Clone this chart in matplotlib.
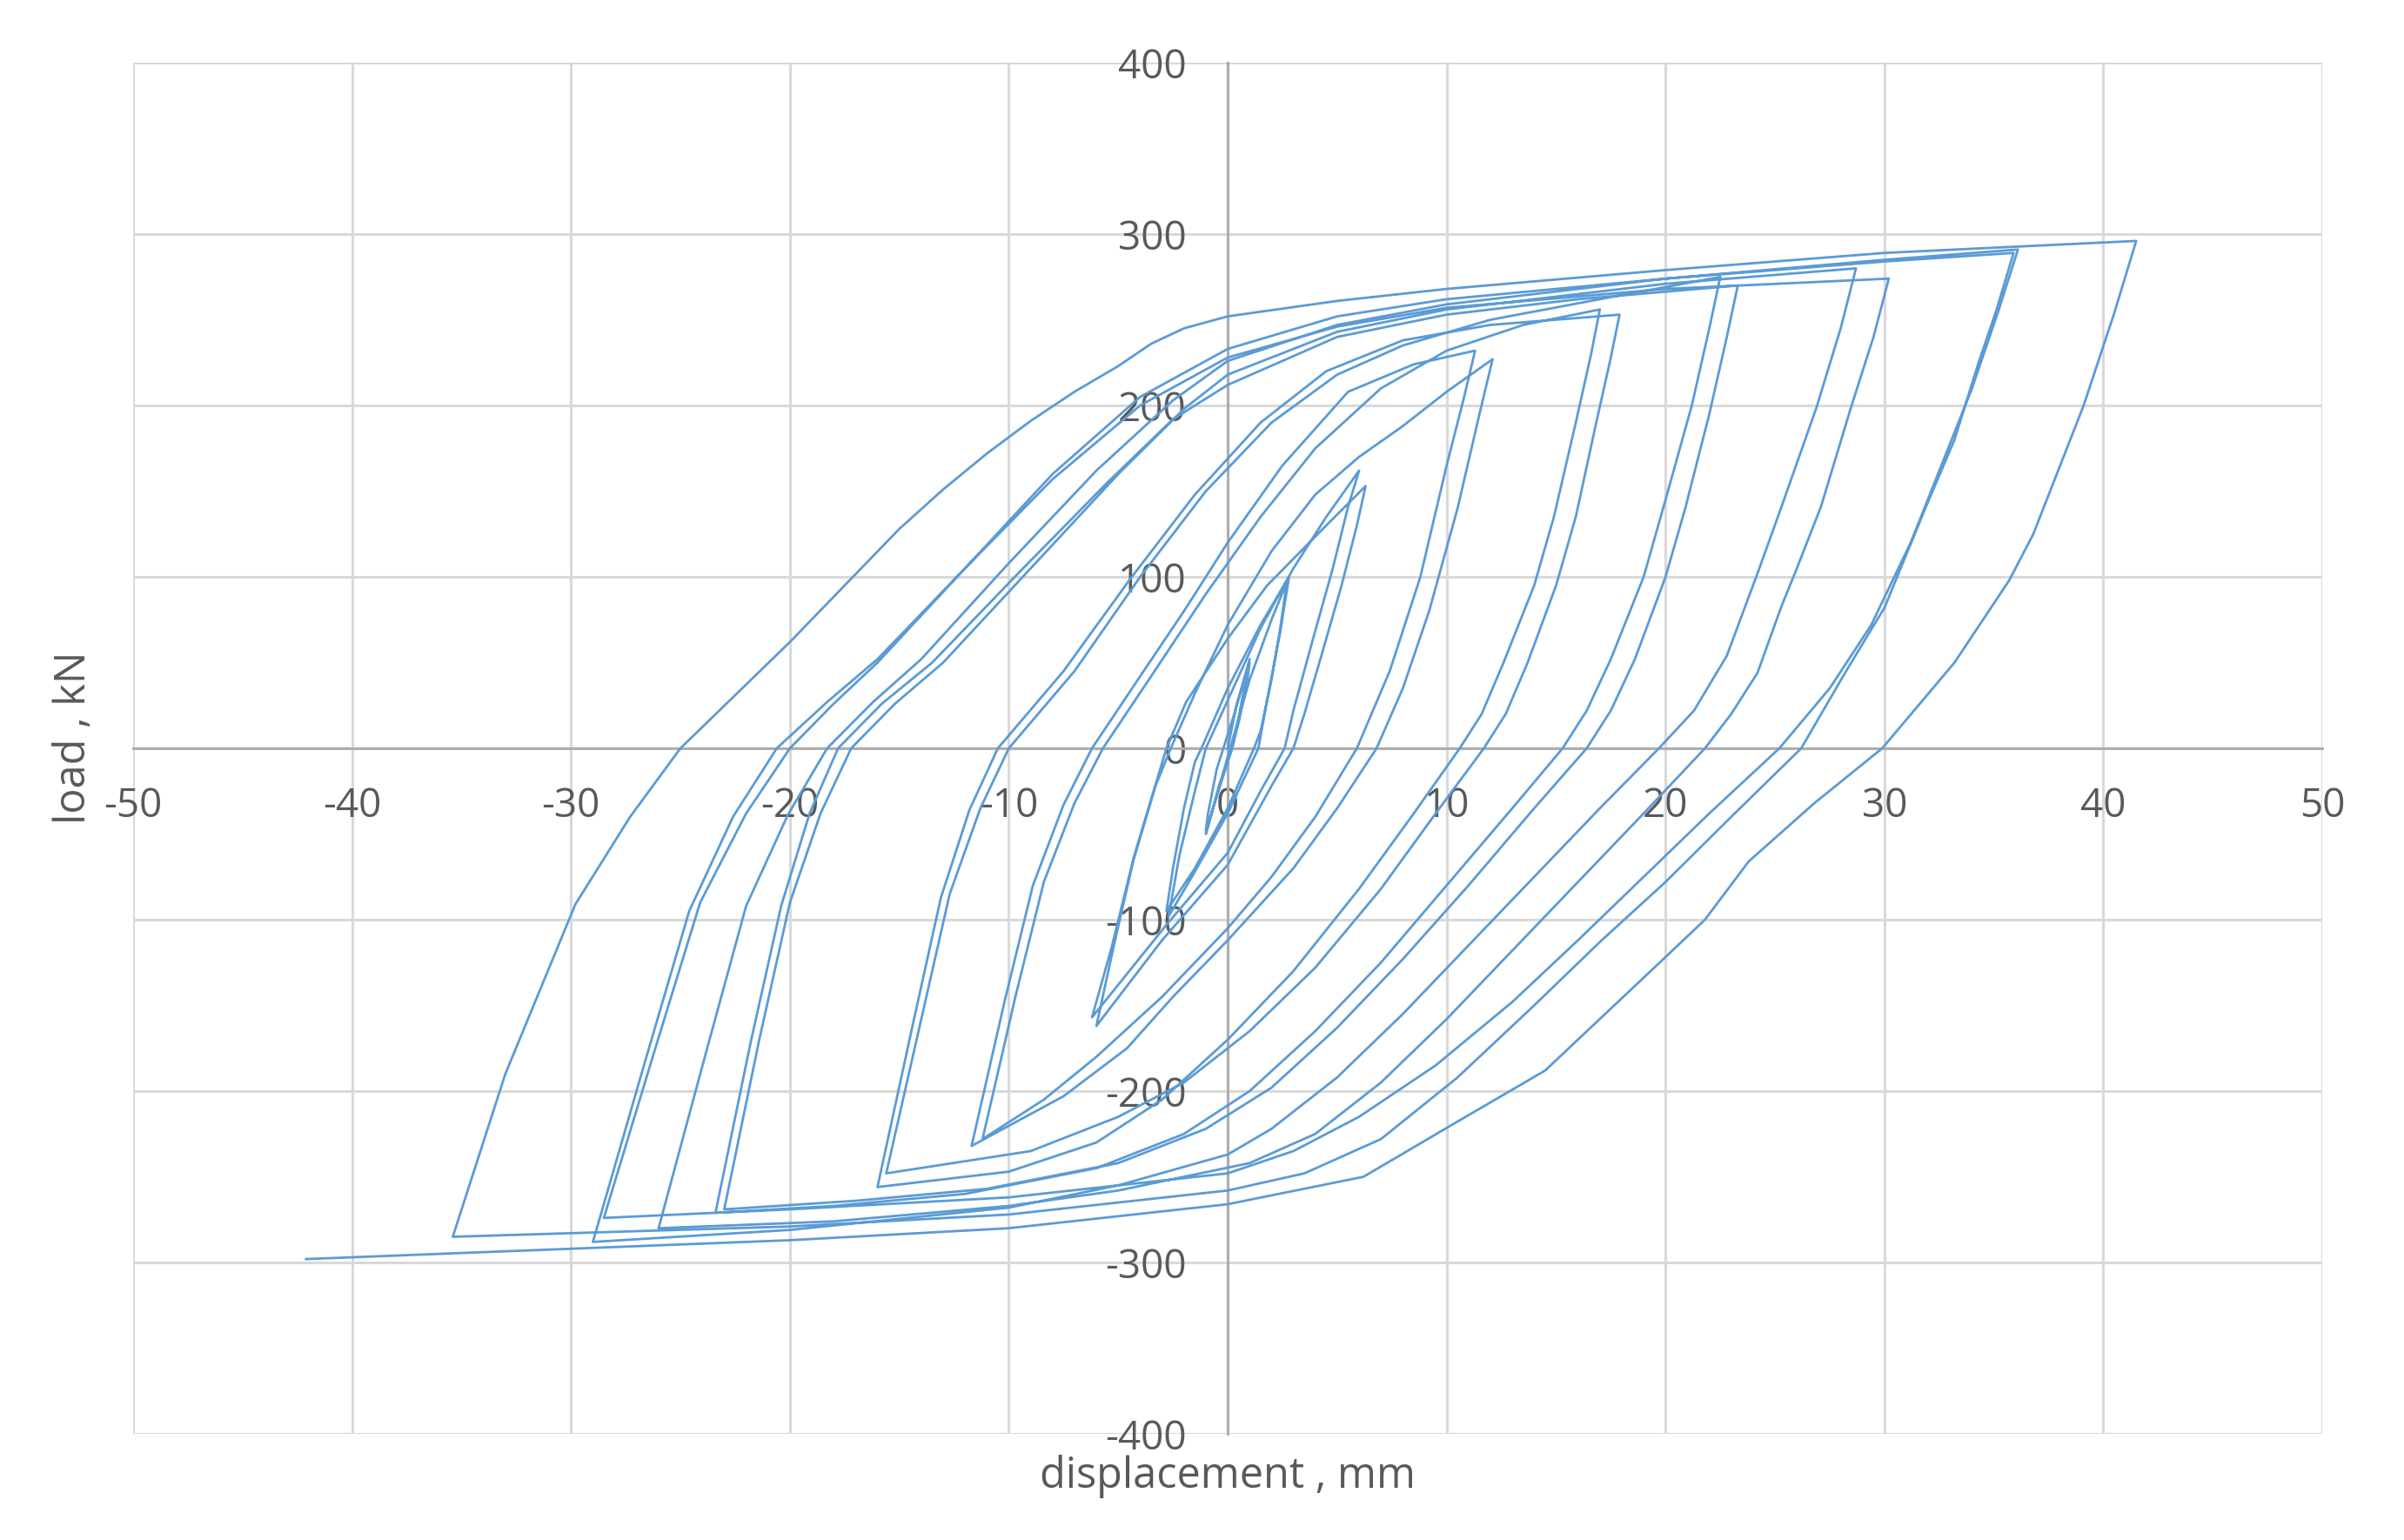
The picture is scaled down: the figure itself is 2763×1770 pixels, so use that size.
"""
Load-displacement hysteresis loops (cyclic test).
"""

import numpy as np
import matplotlib.pyplot as plt

# cycle level 1 (tiny loops around the origin)
disp_lvl1 = [0, 0.4, 1.0, 0.9, 0.5, 0.2, -0.3, -1.0, -0.9, -0.5, -0.2, 0.3, 1.0, 0.5, 0.2, -0.4, -1.0]
load_lvl1 = [0, 25, 50, 40, 15, 0, -20, -48, -38, -12, 0, 20, 52, 18, 0, -22, -50]

# cycle level 2 (about +-2.7 mm)
disp_lvl2 = [0, 1, 2, 2.7, 2.4, 2.0, 1.5, 1.2, 0, -1.5, -2.8, -2.5, -2.0, -1.5, -1.2, 0, 1.5, 2.8,
             2.4, 1.8, 1.4, 0, -1.5, -2.7]
load_lvl2 = [-5, 40, 75, 97, 70, 40, 10, 0, -35, -70, -95, -70, -35, -8, 0, 35, 72, 100,
             68, 28, 0, -38, -72, -98]

# cycle level 3 (about +-6 mm)
disp_lvl3 = [-2.2, -1.5, -1.0, 0, 1.5, 3, 4.5, 6.0,
             5.5, 4.8, 3.9, 3.0, 2.6, 1.5, 0, -2.8, -4.5, -6.2,
             -5.3, -4.3, -3.2, -2.8, -1.9, 0, 1.8, 4.5, 6.3,
             5.9, 5.2, 4.3, 3.5, 3.0, 2, 0, -3, -6.0]
load_lvl3 = [-62, -25, 0, 28, 70, 105, 135, 162,
             141, 105, 64, 22, 0, -25, -61, -103, -130, -157,
             -116, -64, -17, 0, 27, 64, 95, 130, 153,
             130, 95, 55, 20, 0, -22, -68, -112, -162]

# cycle level 4 (about +-12 mm)
disp_lvl4 = [-5.2, -4.3, -3.3, -2.6, -1.5, 0, 2, 4, 6, 8, 10, 12.1,
             11.5, 10.5, 9.2, 8.0, 6.8, 5, 3, 0, -2.5, -4.6, -7.5, -11.7,
             -10.2, -8.9, -7.5, -6.2, -4, -2, 0, 2.5, 5.5, 8.5, 11.3,
             10.8, 10, 8.8, 7.4, 5.9, 4, 2, 0, -3, -6, -8.4, -11.2]
load_lvl4 = [-115, -65, -22, 0, 32, 72, 115, 148, 170, 188, 208, 227,
             195, 140, 80, 35, 0, -35, -70, -112, -145, -175, -203, -232,
             -148, -80, -33, 0, 42, 80, 120, 165, 208, 224, 232,
             205, 165, 100, 45, 0, -40, -75, -105, -145, -180, -205, -228]

# cycle level 5 (about +-17 mm)
disp_lvl5 = [-9.7, -8.4, -7.0, -5.7, -3.5, -1, 1.5, 4, 7, 10, 13.5, 17.0,
             16.6, 15.9, 14.9, 14.0, 12.6, 11.6, 10.6, 8.5, 6, 3, 0, -3, -6, -10, -16.0,
             -14.4, -13.1, -11.8, -10.5, -7.5, -4.5, -1.5, 1.5, 4.5, 8, 12, 17.9,
             17.5, 16.8, 15.9, 15.0, 13.7, 12.7, 11.7, 9.5, 7, 4, 1, -2, -5, -9, -15.6]
load_lvl5 = [-145, -78, -32, 0, 42, 90, 135, 175, 210, 232, 247, 256,
             230, 190, 135, 95, 50, 20, 0, -38, -82, -130, -170, -205, -230, -247, -256,
             -162, -87, -36, 0, 45, 98, 148, 190, 220, 238, 247, 253,
             228, 188, 135, 95, 50, 20, 0, -38, -82, -128, -165, -195, -215, -235, -248]

# cycle level 6 (about +-23 mm)
disp_lvl6 = [-14.0, -12.7, -11.3, -10, -7, -4, -1, 2, 5, 8, 12, 17, 22.5,
             22.0, 21.2, 20.0, 19.0, 17.5, 16.4, 15.3, 13, 10, 7, 4, 1, -2, -6, -12, -18, -23.4,
             -21.8, -20.4, -19.1, -17.8, -15.8, -13.5, -9.5, -5.5, -2.5, 0, 5, 10, 16, 23.3,
             22.8, 22.0, 20.9, 20.0, 18.6, 17.5, 16.4, 14, 11, 8, 5, 2, -1, -5, -11, -17, -23.0]
load_lvl6 = [-158, -85, -35, 0, 45, 100, 150, 190, 218, 235, 250, 262, 275,
             245, 200, 145, 100, 52, 22, 0, -35, -80, -125, -165, -200, -225, -245, -260, -267, -271,
             -172, -92, -38, 0, 26, 50, 103, 155, 192, 212, 240, 253, 262, 270,
             240, 195, 140, 100, 52, 22, 0, -35, -80, -123, -163, -198, -222, -242, -257, -264, -269]

# cycle level 7 (about +-29 mm)
disp_lvl7 = [-21.4, -20.0, -18.6, -17.2, -15.2, -13, -9, -5, -2, 0, 5, 10, 20, 28.7,
             28.0, 26.9, 25.3, 24.2, 22.8, 21.3, 19.7, 17, 14, 11, 8, 5, 2, 0, -5, -10, -20, -29.0,
             -26.6, -24.6, -22.6, -20.6, -18.3, -16, -12, -8, -4, 0, 5, 10, 20, 30.2,
             29.5, 28.5, 27.1, 26.0, 25.3, 24.2, 23, 21.8, 19, 16, 13, 10, 7, 4, 1, -5, -10, -18, -26.0]
load_lvl7 = [-170, -90, -38, 0, 26, 50, 105, 160, 198, 218, 243, 256, 271, 280,
             245, 199, 141, 102, 54, 22, 0, -35, -75, -115, -155, -192, -222, -237, -255, -268, -281, -288,
             -182, -95, -40, 0, 27, 52, 105, 157, 200, 228, 246, 257, 268, 274,
             240, 200, 141, 105, 83, 44, 20, 0, -38, -78, -118, -158, -195, -225, -242, -258, -267, -276, -280]

# cycle level 8 (about +-36 mm)
disp_lvl8 = [-23.8, -22.0, -20.1, -18.3, -16.2, -14, -10, -6, -2.5, 0, 5, 10, 20, 30, 36.1,
             35.2, 34.0, 32.6, 31.2, 29.4, 27.5, 25.2, 22, 19, 16, 13, 9.5, 6, 3, 0, -10, -20, -28.5,
             -26.1, -24.1, -22.0, -20, -18, -16, -12, -8, -4, 0, 5, 10, 20, 30, 35.9,
             35.1, 34.3, 33.2, 31.9, 30, 28.2, 26.2, 23, 20, 17, 14, 10.5, 7, 3.5, 0, -10, -20, -35.4]
load_lvl8 = [-176, -92, -39, 0, 27, 52, 108, 162, 203, 226, 247, 259, 274, 285, 291,
             255, 210, 165, 120, 72, 35, 0, -38, -75, -112, -148, -185, -215, -235, -248, -262, -269, -274,
             -173, -90, -38, 0, 26, 50, 105, 160, 205, 233, 252, 262, 274, 284, 289,
             255, 225, 180, 141, 82, 44, 0, -40, -78, -113, -150, -192, -228, -248, -258, -272, -279, -285]

# cycle level 9 (largest loop, +41.5 / -42 mm)
disp_lvl9 = [-33.0, -29.8, -27.3, -25, -20, -15, -13, -11, -9, -7, -5, -3.5, -2, 0, 5, 10, 20, 30, 41.5,
             40.5, 39.1, 36.8, 35.7, 33.2, 29.9, 26.8, 23.8, 21.8, 19.9, 14.5, 10.2, 6.2, 0,
             -10, -20, -30, -42.1]
load_lvl9 = [-190, -91, -40, 0, 62, 128, 151, 172, 191, 208, 223, 236, 245, 252, 261, 268, 279, 289, 296,
             254, 200, 125, 98, 50, 0, -32, -66, -100, -123, -188, -220, -250, -266,
             -280, -287, -292, -298]

x_ticks = list(range(-50, 51, 10))
y_ticks = list(range(-400, 401, 100))

displacement = np.concatenate([disp_lvl1, disp_lvl2, disp_lvl3, disp_lvl4, disp_lvl5,
                               disp_lvl6, disp_lvl7, disp_lvl8, disp_lvl9])
load = np.concatenate([load_lvl1, load_lvl2, load_lvl3, load_lvl4, load_lvl5,
                       load_lvl6, load_lvl7, load_lvl8, load_lvl9])

plt.rcParams["font.family"] = ["Open Sans", "DejaVu Sans"]
plt.rcParams["axes.unicode_minus"] = False

fig = plt.figure(figsize=(27.63, 17.70), dpi=100)
ax = fig.add_axes([0.0554, 0.0689, 0.9106, 0.8904])

ax.plot(displacement, load, color="#5B9BD5", linewidth=2.0, zorder=3)

ax.set_xlim(-50, 50)
ax.set_ylim(-400, 400)
ax.set_xticks(x_ticks)
ax.set_yticks(y_ticks)
ax.set_xticklabels([str(v) for v in x_ticks])
ax.set_yticklabels([str(v) for v in y_ticks])

ax.grid(True, color="#D9D9D9", linewidth=2.2, zorder=0)
ax.set_axisbelow(True)

for side in ["top", "right"]:
    ax.spines[side].set_visible(False)
ax.spines["left"].set_position(("data", 0))
ax.spines["bottom"].set_position(("data", 0))
ax.spines["left"].set_color("#ADADAD")
ax.spines["bottom"].set_color("#ADADAD")
ax.spines["left"].set_linewidth(2.2)
ax.spines["bottom"].set_linewidth(2.2)

ax.tick_params(axis="both", length=0, labelsize=33, labelcolor="#595959")
ax.tick_params(axis="x", pad=32)
ax.tick_params(axis="y", pad=34)

fig.text(0.5107, 0.041, "displacement , mm", ha="center", va="center",
         fontsize=35, color="#595959")
fig.text(0.031, 0.521, "load , kN", ha="center", va="center", rotation=90,
         fontsize=35, color="#595959")

fig.savefig("out.png", dpi=100, facecolor="white")
plt.close(fig)
